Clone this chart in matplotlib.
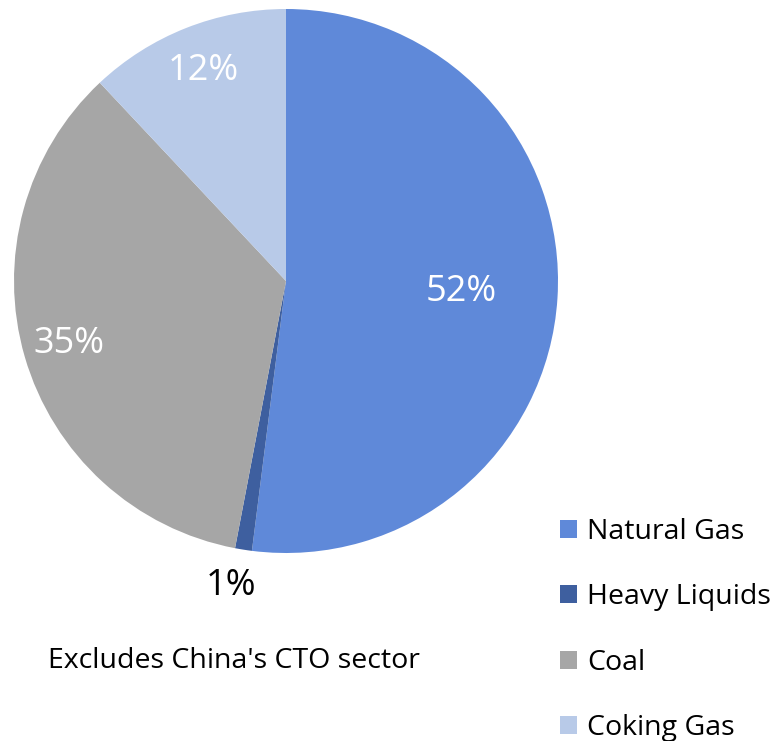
import numpy as np
import matplotlib.pyplot as plt

plt.rcParams['font.family'] = ['Open Sans', 'DejaVu Sans']

sources = ["Natural Gas", "Heavy Liquids", "Coal", "Coking Gas"]
shares = [52, 1, 35, 12]
colors = ["#5f89d9", "#3e5f9f", "#a6a6a6", "#b8cae8"]

# label placement per slice: radius (in pie radii) and angle offset (deg)
lab_r = [0.645, 1.14, 0.83, 0.83]
lab_dang = [0, -1.2, 0, 0]
lab_color = ["white", "black", "white", "white"]

fig = plt.figure(figsize=(7.78, 7.41), dpi=100)
ax = fig.add_axes([14 / 778, 188 / 741, 544 / 778, 544 / 741])

wedges, _ = ax.pie(shares, colors=colors, startangle=90, counterclock=False,
                   radius=1, wedgeprops=dict(linewidth=0))
ax.set_xlim(-1, 1)
ax.set_ylim(-1, 1)
ax.axis("off")

for w, v, r, da, c in zip(wedges, shares, lab_r, lab_dang, lab_color):
    ang = np.deg2rad((w.theta1 + w.theta2) / 2 + da)
    ax.text(r * np.cos(ang), r * np.sin(ang), f"{v}%", color=c, fontsize=26,
            ha="center", va="center")

fig.legend(wedges, sources, loc="upper left", bbox_to_anchor=(560 / 778, 1 - 518 / 741),
           frameon=False, fontsize=20.5, handlelength=0.6, handleheight=0.6,
           handletextpad=0.35, labelspacing=1.31, borderpad=0, borderaxespad=0)

fig.text(234 / 778, 1 - 661 / 741, "Excludes China's CTO sector", fontsize=20.5,
         ha="center", va="center")

fig.savefig("out.png", dpi=100)
